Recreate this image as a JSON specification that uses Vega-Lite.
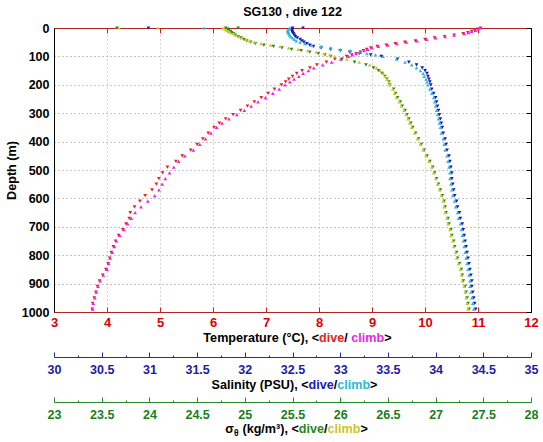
{
  "$schema": "https://vega.github.io/schema/vega-lite/v6.json",
  "width": 477,
  "height": 284,
  "autosize": {"type": "none"},
  "padding": {"left": 54, "top": 28, "right": 12, "bottom": 130},
  "background": "white",
  "title": {"text": "SG130 , dive 122", "fontSize": 12.5, "fontWeight": "bold", "font": "Liberation Sans", "color": "black", "offset": 4, "anchor": "middle"},
  "config": {
    "font": "Liberation Sans",
    "view": {"stroke": null},
    "axis": {"labelFlush": false, "labelOverlap": false, "labelFontWeight": "bold", "labelFontSize": 12.5, "titleFontWeight": "bold", "titleFontSize": 12.6, "titleColor": "black", "labelFont": "Liberation Sans", "titleFont": "Liberation Sans"}
  },
  "data": {"values": [
    {"d":0,"Td":11.05,"Tc":11.05,"Sd":32.50,"Sc":32.47,"Gd":24.80,"Gc":24.77},
    {"d":4,"Td":11.00,"Tc":11.00,"Sd":32.50,"Sc":32.46,"Gd":24.82,"Gc":24.79},
    {"d":8,"Td":10.94,"Tc":10.95,"Sd":32.49,"Sc":32.45,"Gd":24.83,"Gc":24.81},
    {"d":12,"Td":10.88,"Tc":10.88,"Sd":32.50,"Sc":32.45,"Gd":24.85,"Gc":24.83},
    {"d":16,"Td":10.81,"Tc":10.82,"Sd":32.50,"Sc":32.46,"Gd":24.86,"Gc":24.85},
    {"d":20,"Td":10.72,"Tc":10.74,"Sd":32.51,"Sc":32.46,"Gd":24.88,"Gc":24.88},
    {"d":25,"Td":10.55,"Tc":10.55,"Sd":32.52,"Sc":32.47,"Gd":24.90,"Gc":24.91},
    {"d":30,"Td":10.37,"Tc":10.38,"Sd":32.53,"Sc":32.48,"Gd":24.93,"Gc":24.94},
    {"d":35,"Td":10.18,"Tc":10.20,"Sd":32.55,"Sc":32.50,"Gd":24.96,"Gc":24.97},
    {"d":40,"Td":10.00,"Tc":10.03,"Sd":32.58,"Sc":32.52,"Gd":24.99,"Gc":25.01},
    {"d":45,"Td":9.82,"Tc":9.85,"Sd":32.60,"Sc":32.54,"Gd":25.02,"Gc":25.05},
    {"d":50,"Td":9.62,"Tc":9.65,"Sd":32.62,"Sc":32.58,"Gd":25.06,"Gc":25.10},
    {"d":55,"Td":9.44,"Tc":9.47,"Sd":32.65,"Sc":32.63,"Gd":25.11,"Gc":25.17},
    {"d":60,"Td":9.27,"Tc":9.30,"Sd":32.68,"Sc":32.70,"Gd":25.20,"Gc":25.27},
    {"d":65,"Td":9.10,"Tc":9.12,"Sd":32.72,"Sc":32.80,"Gd":25.30,"Gc":25.37},
    {"d":70,"Td":8.98,"Tc":9.00,"Sd":32.80,"Sc":32.90,"Gd":25.39,"Gc":25.46},
    {"d":75,"Td":8.90,"Tc":8.92,"Sd":32.90,"Sc":33.00,"Gd":25.49,"Gc":25.56},
    {"d":80,"Td":8.84,"Tc":8.85,"Sd":33.00,"Sc":33.11,"Gd":25.59,"Gc":25.66},
    {"d":85,"Td":8.78,"Tc":8.78,"Sd":33.10,"Sc":33.20,"Gd":25.68,"Gc":25.75},
    {"d":90,"Td":8.70,"Tc":8.70,"Sd":33.20,"Sc":33.28,"Gd":25.77,"Gc":25.83},
    {"d":95,"Td":8.62,"Tc":8.63,"Sd":33.32,"Sc":33.37,"Gd":25.84,"Gc":25.89},
    {"d":100,"Td":8.52,"Tc":8.56,"Sd":33.43,"Sc":33.45,"Gd":25.90,"Gc":25.94},
    {"d":110,"Td":8.30,"Tc":8.41,"Sd":33.60,"Sc":33.59,"Gd":26.02,"Gc":26.07},
    {"d":120,"Td":8.14,"Tc":8.24,"Sd":33.72,"Sc":33.68,"Gd":26.15,"Gc":26.20},
    {"d":130,"Td":7.96,"Tc":8.07,"Sd":33.80,"Sc":33.75,"Gd":26.27,"Gc":26.31},
    {"d":140,"Td":7.83,"Tc":7.90,"Sd":33.86,"Sc":33.80,"Gd":26.35,"Gc":26.38},
    {"d":150,"Td":7.68,"Tc":7.80,"Sd":33.89,"Sc":33.84,"Gd":26.40,"Gc":26.42},
    {"d":160,"Td":7.58,"Tc":7.70,"Sd":33.91,"Sc":33.87,"Gd":26.44,"Gc":26.45},
    {"d":170,"Td":7.50,"Tc":7.62,"Sd":33.92,"Sc":33.88,"Gd":26.47,"Gc":26.47},
    {"d":180,"Td":7.43,"Tc":7.53,"Sd":33.93,"Sc":33.90,"Gd":26.49,"Gc":26.49},
    {"d":190,"Td":7.37,"Tc":7.45,"Sd":33.94,"Sc":33.91,"Gd":26.51,"Gc":26.51},
    {"d":200,"Td":7.29,"Tc":7.36,"Sd":33.95,"Sc":33.92,"Gd":26.52,"Gc":26.52},
    {"d":215,"Td":7.16,"Tc":7.25,"Sd":33.96,"Sc":33.94,"Gd":26.56,"Gc":26.55},
    {"d":230,"Td":7.04,"Tc":7.13,"Sd":33.98,"Sc":33.96,"Gd":26.58,"Gc":26.57},
    {"d":245,"Td":6.91,"Tc":6.99,"Sd":34.00,"Sc":33.98,"Gd":26.60,"Gc":26.59},
    {"d":260,"Td":6.78,"Tc":6.85,"Sd":34.01,"Sc":33.99,"Gd":26.63,"Gc":26.62},
    {"d":275,"Td":6.65,"Tc":6.72,"Sd":34.02,"Sc":34.00,"Gd":26.65,"Gc":26.64},
    {"d":290,"Td":6.52,"Tc":6.59,"Sd":34.03,"Sc":34.01,"Gd":26.68,"Gc":26.67},
    {"d":305,"Td":6.38,"Tc":6.45,"Sd":34.04,"Sc":34.02,"Gd":26.70,"Gc":26.69},
    {"d":320,"Td":6.24,"Tc":6.30,"Sd":34.05,"Sc":34.03,"Gd":26.72,"Gc":26.71},
    {"d":335,"Td":6.12,"Tc":6.17,"Sd":34.06,"Sc":34.04,"Gd":26.74,"Gc":26.73},
    {"d":350,"Td":6.02,"Tc":6.07,"Sd":34.07,"Sc":34.05,"Gd":26.76,"Gc":26.75},
    {"d":370,"Td":5.91,"Tc":5.96,"Sd":34.08,"Sc":34.06,"Gd":26.79,"Gc":26.78},
    {"d":390,"Td":5.81,"Tc":5.86,"Sd":34.10,"Sc":34.08,"Gd":26.82,"Gc":26.81},
    {"d":410,"Td":5.70,"Tc":5.75,"Sd":34.11,"Sc":34.09,"Gd":26.85,"Gc":26.84},
    {"d":430,"Td":5.58,"Tc":5.63,"Sd":34.12,"Sc":34.10,"Gd":26.88,"Gc":26.87},
    {"d":450,"Td":5.42,"Tc":5.47,"Sd":34.14,"Sc":34.12,"Gd":26.91,"Gc":26.90},
    {"d":470,"Td":5.30,"Tc":5.35,"Sd":34.15,"Sc":34.13,"Gd":26.94,"Gc":26.93},
    {"d":490,"Td":5.14,"Tc":5.26,"Sd":34.16,"Sc":34.14,"Gd":26.97,"Gc":26.96},
    {"d":510,"Td":5.05,"Tc":5.18,"Sd":34.17,"Sc":34.15,"Gd":26.99,"Gc":26.98},
    {"d":530,"Td":4.98,"Tc":5.10,"Sd":34.17,"Sc":34.15,"Gd":27.01,"Gc":27.00},
    {"d":550,"Td":4.93,"Tc":5.04,"Sd":34.18,"Sc":34.16,"Gd":27.03,"Gc":27.02},
    {"d":570,"Td":4.85,"Tc":4.98,"Sd":34.19,"Sc":34.17,"Gd":27.05,"Gc":27.04},
    {"d":590,"Td":4.72,"Tc":4.90,"Sd":34.20,"Sc":34.18,"Gd":27.07,"Gc":27.06},
    {"d":610,"Td":4.62,"Tc":4.77,"Sd":34.22,"Sc":34.20,"Gd":27.09,"Gc":27.08},
    {"d":630,"Td":4.52,"Tc":4.64,"Sd":34.23,"Sc":34.21,"Gd":27.10,"Gc":27.09},
    {"d":650,"Td":4.44,"Tc":4.53,"Sd":34.25,"Sc":34.23,"Gd":27.11,"Gc":27.10},
    {"d":670,"Td":4.42,"Tc":4.46,"Sd":34.26,"Sc":34.24,"Gd":27.13,"Gc":27.12},
    {"d":690,"Td":4.36,"Tc":4.39,"Sd":34.28,"Sc":34.26,"Gd":27.14,"Gc":27.13},
    {"d":710,"Td":4.30,"Tc":4.32,"Sd":34.29,"Sc":34.27,"Gd":27.16,"Gc":27.15},
    {"d":730,"Td":4.22,"Tc":4.24,"Sd":34.30,"Sc":34.28,"Gd":27.17,"Gc":27.16},
    {"d":750,"Td":4.16,"Tc":4.18,"Sd":34.31,"Sc":34.29,"Gd":27.19,"Gc":27.18},
    {"d":770,"Td":4.12,"Tc":4.14,"Sd":34.32,"Sc":34.30,"Gd":27.20,"Gc":27.19},
    {"d":790,"Td":4.08,"Tc":4.10,"Sd":34.33,"Sc":34.31,"Gd":27.22,"Gc":27.21},
    {"d":810,"Td":4.05,"Tc":4.06,"Sd":34.34,"Sc":34.32,"Gd":27.23,"Gc":27.22},
    {"d":830,"Td":4.02,"Tc":4.03,"Sd":34.35,"Sc":34.33,"Gd":27.25,"Gc":27.24},
    {"d":850,"Td":3.98,"Tc":4.00,"Sd":34.36,"Sc":34.34,"Gd":27.27,"Gc":27.26},
    {"d":870,"Td":3.92,"Tc":3.93,"Sd":34.37,"Sc":34.35,"Gd":27.28,"Gc":27.27},
    {"d":890,"Td":3.86,"Tc":3.87,"Sd":34.38,"Sc":34.36,"Gd":27.29,"Gc":27.28},
    {"d":910,"Td":3.82,"Tc":3.83,"Sd":34.38,"Sc":34.36,"Gd":27.31,"Gc":27.30},
    {"d":930,"Td":3.79,"Tc":3.80,"Sd":34.39,"Sc":34.37,"Gd":27.32,"Gc":27.31},
    {"d":950,"Td":3.76,"Tc":3.77,"Sd":34.40,"Sc":34.38,"Gd":27.33,"Gc":27.32},
    {"d":970,"Td":3.73,"Tc":3.74,"Sd":34.41,"Sc":34.39,"Gd":27.34,"Gc":27.33},
    {"d":990,"Td":3.72,"Tc":3.73,"Sd":34.42,"Sc":34.40,"Gd":27.35,"Gc":27.34},
    {"d":0,"Gd":23.66},
    {"d":0,"Gc":23.68},
    {"d":0,"Sd":30.99},
    {"d":0,"Gc":24.09},
    {"d":0,"Sc":31.57},
    {"d":0,"Gd":24.93},
    {"d":0,"Sd":32.61}
  ]},
  "resolve": {"scale": {"x": "independent", "y": "independent"}, "axis": {"x": "independent", "y": "independent"}},
  "layer": [
    {
      "mark": {"type": "point", "shape": "triangle-down", "filled": true, "size": 14, "color": "#e8201c", "opacity": 1},
      "encoding": {
        "x": {"field": "Td", "type": "quantitative", "scale": {"domain": [3, 12], "nice": false, "zero": false},
          "axis": {"orient": "bottom", "values": [3,4,5,6,7,8,9,10,11,12], "domainColor": "#b02424", "tickColor": "#d02020", "tickSize": -5, "labelColor": "#e00000", "labelFontSize": 13, "labelPadding": 9,
            "title": "Temperature (°C), <", "titleAlign": "right", "titleBaseline": "middle", "titleX": 264.6, "titleY": 25.3,
            "grid": true, "gridColor": "#c8a0a0", "gridDash": [1, 3]}},
        "y": {"field": "d", "type": "quantitative", "scale": {"domain": [0, 1000], "reverse": true, "nice": false, "zero": false},
          "axis": {"orient": "left", "values": [0,100,200,300,400,500,600,700,800,900,1000], "format": "d", "ticks": false, "domainColor": "black", "labelColor": "black", "labelPadding": 5, "title": "Depth (m)", "titlePadding": 3, "grid": true, "gridColor": "#8c8c8c", "gridDash": [1, 3]}}
      }
    },
    {
      "mark": {"type": "point", "shape": "triangle-up", "filled": true, "size": 14, "color": "#ee22ee", "opacity": 1},
      "encoding": {
        "x": {"field": "Tc", "type": "quantitative", "scale": {"domain": [3, 12], "nice": false, "zero": false},
          "axis": {"orient": "top", "values": [3,4,5,6,7,8,9,10,11,12], "domainColor": "#b02424", "tickColor": "#d02020", "tickSize": -5, "labels": false, "title": null, "grid": false}},
        "y": {"field": "d", "type": "quantitative", "scale": {"domain": [0, 1000], "reverse": true, "nice": false, "zero": false},
          "axis": {"orient": "right", "values": [0,100,200,300,400,500,600,700,800,900,1000], "domainColor": "black", "tickColor": "black", "tickSize": -5, "labels": false, "title": null, "grid": false}}
      }
    },
    {
      "mark": {"type": "point", "shape": "triangle-down", "filled": true, "size": 14, "color": "#1a1ab8", "opacity": 1},
      "encoding": {
        "x": {"field": "Sd", "type": "quantitative", "scale": {"domain": [30, 35], "nice": false, "zero": false},
          "axis": {"orient": "bottom", "offset": 45, "values": [30,30.25,30.5,30.75,31,31.25,31.5,31.75,32,32.25,32.5,32.75,33,33.25,33.5,33.75,34,34.25,34.5,34.75,35],
            "domainColor": "#2a2aa0", "tickColor": "#2a2aa0",
            "tickSize": {"condition": {"test": "abs(datum.value*2 - round(datum.value*2)) < 0.01", "value": -5}, "value": -2},
            "labelExpr": "abs(datum.value*2 - round(datum.value*2)) < 0.01 ? format(datum.value, '~g') : ''",
            "labelColor": "#1c1ca8", "labelPadding": 11,
            "title": "Salinity (PSU), <", "titleAlign": "right", "titleBaseline": "middle", "titleX": 254.0, "titleY": 27.3, "grid": false}},
        "y": {"field": "d", "type": "quantitative", "scale": {"domain": [0, 1000], "reverse": true, "nice": false, "zero": false}, "axis": null}
      }
    },
    {
      "mark": {"type": "point", "shape": "triangle-up", "filled": true, "size": 14, "color": "#2eb8d8", "opacity": 1},
      "encoding": {
        "x": {"field": "Sc", "type": "quantitative", "scale": {"domain": [30, 35], "nice": false, "zero": false},
          "axis": {"orient": "bottom", "offset": 45, "domain": false, "ticks": false, "labels": false, "grid": false, "title": "dive", "titleColor": "#1a1ab8", "titleAlign": "left", "titleBaseline": "middle", "titleX": 254.0, "titleY": 27.3}},
        "y": {"field": "d", "type": "quantitative", "scale": {"domain": [0, 1000], "reverse": true, "nice": false, "zero": false}, "axis": null}
      }
    },
    {
      "mark": {"type": "point", "shape": "triangle-down", "filled": true, "size": 14, "color": "#1f8a1f", "opacity": 1},
      "encoding": {
        "x": {"field": "Gd", "type": "quantitative", "scale": {"domain": [23, 28], "nice": false, "zero": false},
          "axis": {"orient": "bottom", "offset": 90, "values": [23,23.25,23.5,23.75,24,24.25,24.5,24.75,25,25.25,25.5,25.75,26,26.25,26.5,26.75,27,27.25,27.5,27.75,28],
            "domainColor": "#2a8a2a", "tickColor": "#2a8a2a",
            "tickSize": {"condition": {"test": "abs(datum.value*2 - round(datum.value*2)) < 0.01", "value": -5}, "value": -2},
            "labelExpr": "abs(datum.value*2 - round(datum.value*2)) < 0.01 ? format(datum.value, '~g') : ''",
            "labelColor": "#1a801a", "labelPadding": 11,
            "title": "(kg/m³), <", "titleAlign": "right", "titleBaseline": "middle", "titleX": 244.3, "titleY": 26.3, "grid": false}},
        "y": {"field": "d", "type": "quantitative", "scale": {"domain": [0, 1000], "reverse": true, "nice": false, "zero": false}, "axis": null}
      }
    },
    {
      "mark": {"type": "point", "shape": "triangle-up", "filled": true, "size": 14, "color": "#c8c828", "opacity": 1},
      "encoding": {
        "x": {"field": "Gc", "type": "quantitative", "scale": {"domain": [23, 28], "nice": false, "zero": false},
          "axis": {"orient": "bottom", "offset": 90, "domain": false, "ticks": false, "labels": false, "grid": false, "title": "dive", "titleColor": "#1f8a1f", "titleAlign": "left", "titleBaseline": "middle", "titleX": 244.3, "titleY": 26.3}},
        "y": {"field": "d", "type": "quantitative", "scale": {"domain": [0, 1000], "reverse": true, "nice": false, "zero": false}, "axis": null}
      }
    },
    {
      "data": {"values": []},
      "mark": {"type": "point"},
      "encoding": {
        "x": {"field": "Td", "type": "quantitative", "scale": {"domain": [3, 12], "nice": false, "zero": false},
          "axis": {"orient": "bottom", "domain": false, "ticks": false, "labels": false, "grid": false, "title": "dive", "titleColor": "#e8201c", "titleAlign": "left", "titleBaseline": "middle", "titleX": 264.6, "titleY": 25.3}},
        "y": {"field": "d", "type": "quantitative", "scale": {"domain": [0, 1000], "reverse": true, "nice": false, "zero": false}, "axis": null}
      }
    },
    {
      "data": {"values": []},
      "mark": {"type": "point"},
      "encoding": {
        "x": {"field": "Td", "type": "quantitative", "scale": {"domain": [3, 12], "nice": false, "zero": false},
          "axis": {"orient": "bottom", "domain": false, "ticks": false, "labels": false, "grid": false, "title": "/", "titleAlign": "left", "titleBaseline": "middle", "titleX": 289.8, "titleY": 25.3}},
        "y": {"field": "d", "type": "quantitative", "scale": {"domain": [0, 1000], "reverse": true, "nice": false, "zero": false}, "axis": null}
      }
    },
    {
      "data": {"values": []},
      "mark": {"type": "point"},
      "encoding": {
        "x": {"field": "Td", "type": "quantitative", "scale": {"domain": [3, 12], "nice": false, "zero": false},
          "axis": {"orient": "bottom", "domain": false, "ticks": false, "labels": false, "grid": false, "title": "climb", "titleColor": "#ee22ee", "titleAlign": "left", "titleBaseline": "middle", "titleX": 296.8, "titleY": 25.3}},
        "y": {"field": "d", "type": "quantitative", "scale": {"domain": [0, 1000], "reverse": true, "nice": false, "zero": false}, "axis": null}
      }
    },
    {
      "data": {"values": []},
      "mark": {"type": "point"},
      "encoding": {
        "x": {"field": "Td", "type": "quantitative", "scale": {"domain": [3, 12], "nice": false, "zero": false},
          "axis": {"orient": "bottom", "domain": false, "ticks": false, "labels": false, "grid": false, "title": ">", "titleAlign": "left", "titleBaseline": "middle", "titleX": 329.7, "titleY": 25.3}},
        "y": {"field": "d", "type": "quantitative", "scale": {"domain": [0, 1000], "reverse": true, "nice": false, "zero": false}, "axis": null}
      }
    },
    {
      "data": {"values": []},
      "mark": {"type": "point"},
      "encoding": {
        "x": {"field": "Sd", "type": "quantitative", "scale": {"domain": [30, 35], "nice": false, "zero": false},
          "axis": {"orient": "bottom", "offset": 45, "domain": false, "ticks": false, "labels": false, "grid": false, "title": "/", "titleAlign": "left", "titleBaseline": "middle", "titleX": 279.2, "titleY": 27.3}},
        "y": {"field": "d", "type": "quantitative", "scale": {"domain": [0, 1000], "reverse": true, "nice": false, "zero": false}, "axis": null}
      }
    },
    {
      "data": {"values": []},
      "mark": {"type": "point"},
      "encoding": {
        "x": {"field": "Sd", "type": "quantitative", "scale": {"domain": [30, 35], "nice": false, "zero": false},
          "axis": {"orient": "bottom", "offset": 45, "domain": false, "ticks": false, "labels": false, "grid": false, "title": "climb", "titleColor": "#2eb8d8", "titleAlign": "left", "titleBaseline": "middle", "titleX": 282.7, "titleY": 27.3}},
        "y": {"field": "d", "type": "quantitative", "scale": {"domain": [0, 1000], "reverse": true, "nice": false, "zero": false}, "axis": null}
      }
    },
    {
      "data": {"values": []},
      "mark": {"type": "point"},
      "encoding": {
        "x": {"field": "Sd", "type": "quantitative", "scale": {"domain": [30, 35], "nice": false, "zero": false},
          "axis": {"orient": "bottom", "offset": 45, "domain": false, "ticks": false, "labels": false, "grid": false, "title": ">", "titleAlign": "left", "titleBaseline": "middle", "titleX": 315.6, "titleY": 27.3}},
        "y": {"field": "d", "type": "quantitative", "scale": {"domain": [0, 1000], "reverse": true, "nice": false, "zero": false}, "axis": null}
      }
    },
    {
      "data": {"values": []},
      "mark": {"type": "point"},
      "encoding": {
        "x": {"field": "Gd", "type": "quantitative", "scale": {"domain": [23, 28], "nice": false, "zero": false},
          "axis": {"orient": "bottom", "offset": 90, "domain": false, "ticks": false, "labels": false, "grid": false, "title": "σ", "titleAlign": "right", "titleBaseline": "middle", "titleX": 179.4, "titleY": 26.3}},
        "y": {"field": "d", "type": "quantitative", "scale": {"domain": [0, 1000], "reverse": true, "nice": false, "zero": false}, "axis": null}
      }
    },
    {
      "data": {"values": []},
      "mark": {"type": "point"},
      "encoding": {
        "x": {"field": "Gd", "type": "quantitative", "scale": {"domain": [23, 28], "nice": false, "zero": false},
          "axis": {"orient": "bottom", "offset": 90, "domain": false, "ticks": false, "labels": false, "grid": false, "title": "θ", "titleFontSize": 8.5, "titleAlign": "left", "titleBaseline": "middle", "titleX": 179.6, "titleY": 30.5}},
        "y": {"field": "d", "type": "quantitative", "scale": {"domain": [0, 1000], "reverse": true, "nice": false, "zero": false}, "axis": null}
      }
    },
    {
      "data": {"values": []},
      "mark": {"type": "point"},
      "encoding": {
        "x": {"field": "Gd", "type": "quantitative", "scale": {"domain": [23, 28], "nice": false, "zero": false},
          "axis": {"orient": "bottom", "offset": 90, "domain": false, "ticks": false, "labels": false, "grid": false, "title": "/", "titleAlign": "left", "titleBaseline": "middle", "titleX": 269.5, "titleY": 26.3}},
        "y": {"field": "d", "type": "quantitative", "scale": {"domain": [0, 1000], "reverse": true, "nice": false, "zero": false}, "axis": null}
      }
    },
    {
      "data": {"values": []},
      "mark": {"type": "point"},
      "encoding": {
        "x": {"field": "Gd", "type": "quantitative", "scale": {"domain": [23, 28], "nice": false, "zero": false},
          "axis": {"orient": "bottom", "offset": 90, "domain": false, "ticks": false, "labels": false, "grid": false, "title": "climb", "titleColor": "#c8c828", "titleAlign": "left", "titleBaseline": "middle", "titleX": 273.0, "titleY": 26.3}},
        "y": {"field": "d", "type": "quantitative", "scale": {"domain": [0, 1000], "reverse": true, "nice": false, "zero": false}, "axis": null}
      }
    },
    {
      "data": {"values": []},
      "mark": {"type": "point"},
      "encoding": {
        "x": {"field": "Gd", "type": "quantitative", "scale": {"domain": [23, 28], "nice": false, "zero": false},
          "axis": {"orient": "bottom", "offset": 90, "domain": false, "ticks": false, "labels": false, "grid": false, "title": ">", "titleAlign": "left", "titleBaseline": "middle", "titleX": 305.9, "titleY": 26.3}},
        "y": {"field": "d", "type": "quantitative", "scale": {"domain": [0, 1000], "reverse": true, "nice": false, "zero": false}, "axis": null}
      }
    }
  ]
}
